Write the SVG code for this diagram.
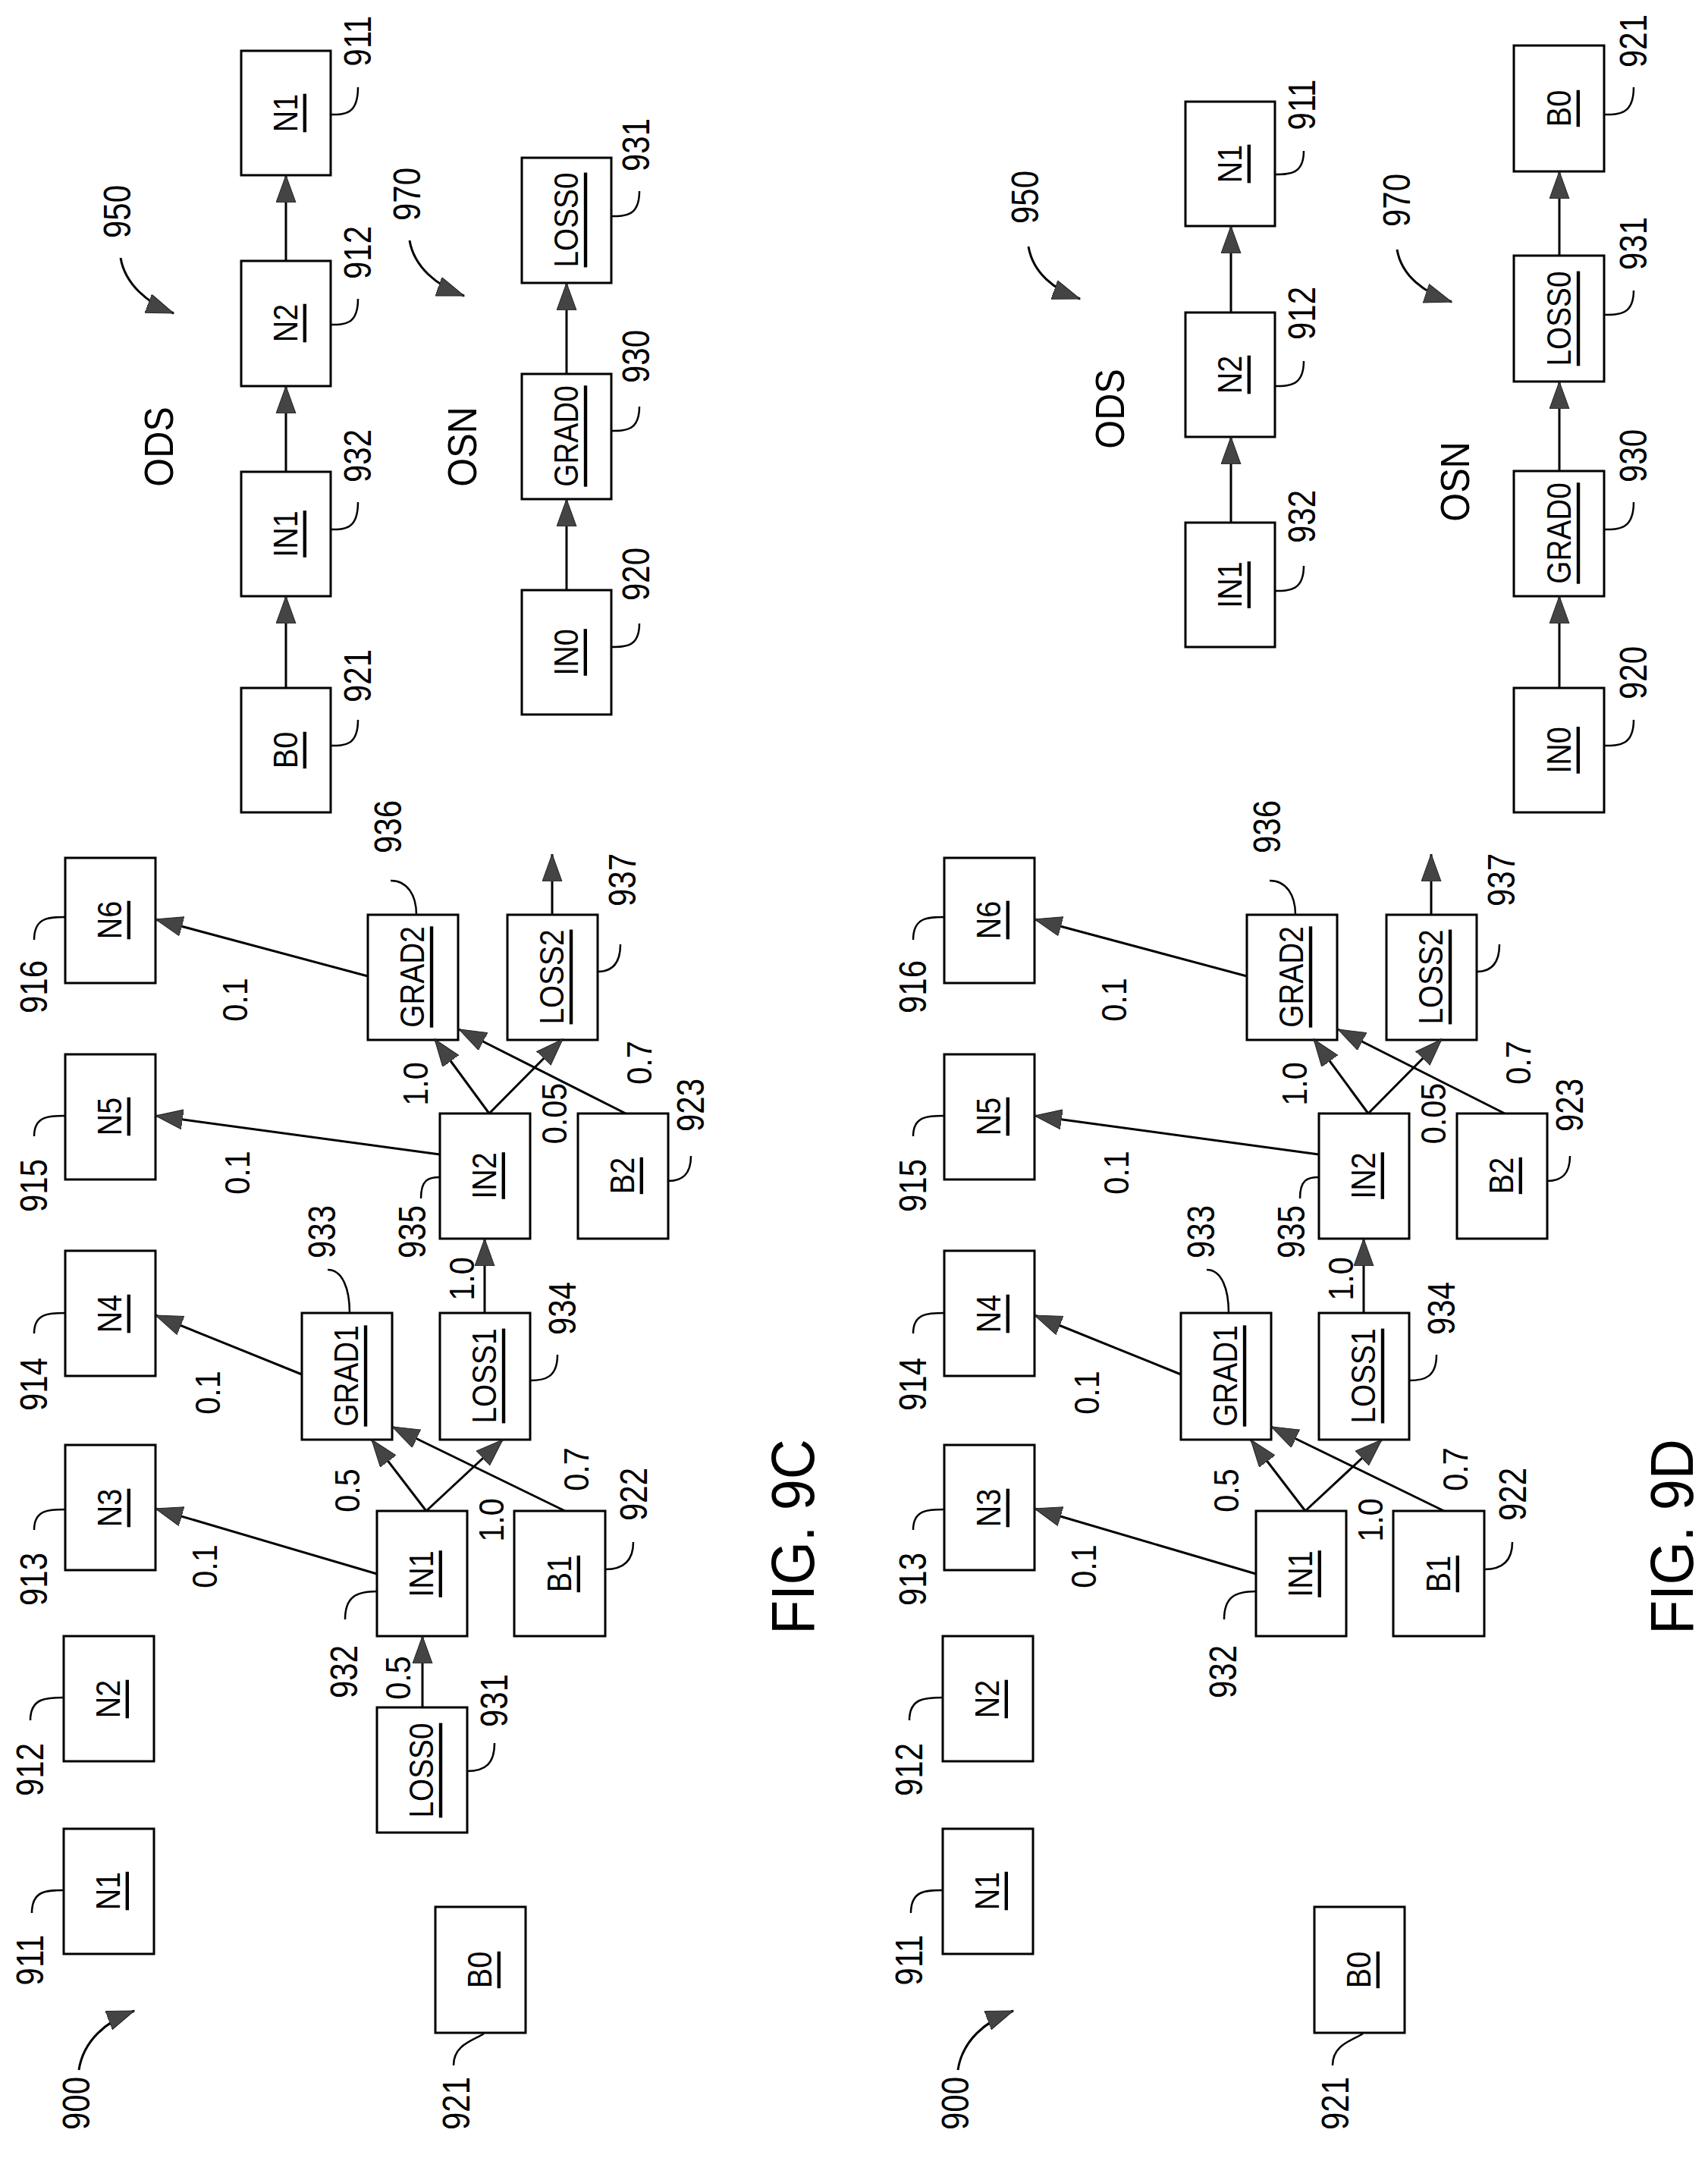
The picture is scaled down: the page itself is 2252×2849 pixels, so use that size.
<svg xmlns="http://www.w3.org/2000/svg" width="2252" height="2849" viewBox="0 0 2252 2849">
<style>
rect{fill:#fff;stroke:#000;stroke-width:3}
text{font-family:"Liberation Sans",Arial,sans-serif;text-anchor:middle;dominant-baseline:central;fill:#000}
.l{font-size:44px;text-decoration:underline}
.n{font-size:50px}
.w{font-size:46px}
.t{font-size:54px}
.f{font-size:80px}
.c line,.c path{stroke:#000;stroke-width:3;fill:none}
.c .a{marker-end:url(#ah)}
.ld path{stroke:#000;stroke-width:2.5;fill:none}
</style>
<defs>
<marker id="ah" markerUnits="userSpaceOnUse" markerWidth="40" markerHeight="28" refX="36" refY="13" orient="auto"><path d="M0,0 L36,13 L0,26 z" fill="#444" stroke="#222" stroke-width="1"/></marker>
<g id="fig">
<g id="N1"><rect x="84" y="2411" width="119" height="165"/><text class="l" transform="translate(143,2493) rotate(-90) scale(0.9,1)">N1</text></g>
<g id="N2"><rect x="84" y="2157" width="119" height="165"/><text class="l" transform="translate(143,2240) rotate(-90) scale(0.9,1)">N2</text></g>
<g id="N3"><rect x="86" y="1905" width="119" height="165"/><text class="l" transform="translate(145,1988) rotate(-90) scale(0.9,1)">N3</text></g>
<g id="N4"><rect x="86" y="1649" width="119" height="165"/><text class="l" transform="translate(145,1732) rotate(-90) scale(0.9,1)">N4</text></g>
<g id="N5"><rect x="86" y="1390" width="119" height="165"/><text class="l" transform="translate(145,1472) rotate(-90) scale(0.9,1)">N5</text></g>
<g id="N6"><rect x="86" y="1131" width="119" height="165"/><text class="l" transform="translate(145,1213) rotate(-90) scale(0.9,1)">N6</text></g>
<g id="GRAD2"><rect x="485" y="1206" width="119" height="165"/><text class="l" transform="translate(544,1288) rotate(-90) scale(0.88,1)">GRAD2</text></g>
<g id="LOSS2"><rect x="669" y="1206" width="119" height="165"/><text class="l" transform="translate(728,1288) rotate(-90) scale(0.88,1)">LOSS2</text></g>
<g id="IN2"><rect x="580" y="1468" width="119" height="165"/><text class="l" transform="translate(639,1550) rotate(-90) scale(0.9,1)">IN2</text></g>
<g id="B2"><rect x="762" y="1468" width="119" height="165"/><text class="l" transform="translate(821,1550) rotate(-90) scale(0.9,1)">B2</text></g>
<g id="GRAD1"><rect x="398" y="1731" width="119" height="167"/><text class="l" transform="translate(457,1814) rotate(-90) scale(0.88,1)">GRAD1</text></g>
<g id="LOSS1"><rect x="580" y="1731" width="119" height="167"/><text class="l" transform="translate(639,1814) rotate(-90) scale(0.88,1)">LOSS1</text></g>
<g id="IN1"><rect x="497" y="1992" width="119" height="165"/><text class="l" transform="translate(556,2075) rotate(-90) scale(0.9,1)">IN1</text></g>
<g id="B1"><rect x="678" y="1992" width="120" height="165"/><text class="l" transform="translate(738,2075) rotate(-90) scale(0.9,1)">B1</text></g>
<g id="B0"><rect x="574" y="2514" width="119" height="166"/><text class="l" transform="translate(633,2597) rotate(-90) scale(0.9,1)">B0</text></g>
<g class="c">
<line class="a" x1="497" y1="2075" x2="205" y2="1989"/>
<line class="a" x1="398" y1="1812" x2="205" y2="1734"/>
<line class="a" x1="580" y1="1522" x2="205" y2="1471"/>
<line class="a" x1="485" y1="1287" x2="205" y2="1212"/>
<line class="a" x1="562" y1="1992" x2="490" y2="1898"/>
<line class="a" x1="562" y1="1992" x2="663" y2="1898"/>
<line class="a" x1="745" y1="1992" x2="517" y2="1881"/>
<line class="a" x1="639" y1="1731" x2="639" y2="1633"/>
<line class="a" x1="645" y1="1468" x2="573" y2="1370"/>
<line class="a" x1="645" y1="1468" x2="742" y2="1370"/>
<line class="a" x1="825" y1="1468" x2="605" y2="1357"/>
<line class="a" x1="728" y1="1206" x2="728" y2="1126"/>
<path class="a" d="M104,2729 C110,2690 140,2665 177,2651"/>
</g>
<g class="ld">
<path d="M45,1239 C45,1209 65,1209 86,1209"/>
<path d="M45,1498 C45,1471 65,1471 86,1471"/>
<path d="M45,1758 C45,1731 65,1731 86,1731"/>
<path d="M45,2017 C45,1990 65,1990 86,1990"/>
<path d="M40,2268 C40,2238 62,2238 84,2238"/>
<path d="M42,2522 C42,2492 62,2492 84,2492"/>
<path d="M598,2723 C598,2695 625,2690 638,2681"/>
<path d="M515,1161 C537,1161 549,1180 549,1206"/>
<path d="M818,1245 C818,1272 805,1281 788,1281"/>
<path d="M432,1674 C452,1674 461,1700 461,1731"/>
<path d="M735,1786 C735,1815 720,1820 699,1820"/>
<path d="M555,1580 C555,1555 565,1552 580,1552"/>
<path d="M455,2135 C455,2105 470,2098 497,2098"/>
<path d="M835,2033 C835,2060 820,2069 798,2069"/>
<path d="M911,1524 C911,1550 898,1557 881,1557"/>
</g>
<text class="n" transform="translate(45,1301) rotate(-90) scale(0.84,1)">916</text>
<text class="n" transform="translate(45,1563) rotate(-90) scale(0.84,1)">915</text>
<text class="n" transform="translate(45,1825) rotate(-90) scale(0.84,1)">914</text>
<text class="n" transform="translate(45,2082) rotate(-90) scale(0.84,1)">913</text>
<text class="n" transform="translate(40,2333) rotate(-90) scale(0.84,1)">912</text>
<text class="n" transform="translate(40,2584) rotate(-90) scale(0.84,1)">911</text>
<text class="n" transform="translate(101,2773) rotate(-90) scale(0.84,1)">900</text>
<text class="n" transform="translate(602,2773) rotate(-90) scale(0.84,1)">921</text>
<text class="n" transform="translate(512,1090) rotate(-90) scale(0.84,1)">936</text>
<text class="n" transform="translate(821,1160) rotate(-90) scale(0.84,1)">937</text>
<text class="n" transform="translate(425,1624) rotate(-90) scale(0.84,1)">933</text>
<text class="n" transform="translate(742,1725) rotate(-90) scale(0.84,1)">934</text>
<text class="n" transform="translate(544,1624) rotate(-90) scale(0.84,1)">935</text>
<text class="n" transform="translate(454,2204) rotate(-90) scale(0.84,1)">932</text>
<text class="n" transform="translate(836,1970) rotate(-90) scale(0.84,1)">922</text>
<text class="n" transform="translate(911,1457) rotate(-90) scale(0.84,1)">923</text>
<text class="w" transform="translate(310,1318) rotate(-90) scale(0.9,1)">0.1</text>
<text class="w" transform="translate(313,1546) rotate(-90) scale(0.9,1)">0.1</text>
<text class="w" transform="translate(274,1836) rotate(-90) scale(0.9,1)">0.1</text>
<text class="w" transform="translate(270,2065) rotate(-90) scale(0.9,1)">0.1</text>
<text class="w" transform="translate(458,1965) rotate(-90) scale(0.9,1)">0.5</text>
<text class="w" transform="translate(648,2004) rotate(-90) scale(0.9,1)">1.0</text>
<text class="w" transform="translate(760,1937) rotate(-90) scale(0.9,1)">0.7</text>
<text class="w" transform="translate(609,1686) rotate(-90) scale(0.9,1)">1.0</text>
<text class="w" transform="translate(548,1429) rotate(-90) scale(0.9,1)">1.0</text>
<text class="w" transform="translate(731,1468) rotate(-90) scale(0.9,1)">0.05</text>
<text class="w" transform="translate(843,1401) rotate(-90) scale(0.9,1)">0.7</text>
</g>
</defs>

<g id="fig9C">
<use href="#fig"/>
<g id="LOSS0_c"><rect x="497" y="2251" width="119" height="165"/><text class="l" transform="translate(556,2334) rotate(-90) scale(0.88,1)">LOSS0</text></g>
<g class="c"><line class="a" x1="557" y1="2251" x2="557" y2="2157"/></g>
<g class="ld"><path d="M652,2298 C652,2325 640,2335 616,2335"/></g>
<text class="n" transform="translate(652,2242) rotate(-90) scale(0.84,1)">931</text>
<text class="w" transform="translate(525,2212) rotate(-90) scale(0.9,1)">0.5</text>
<text class="f" transform="translate(1045,2026) rotate(-90) scale(0.92,1)">FIG. 9C</text>

<g id="ODS_B0_c"><rect x="318" y="907" width="118" height="164"/><text class="l" transform="translate(377,989) rotate(-90) scale(0.9,1)">B0</text></g>
<g id="ODS_IN1_c"><rect x="318" y="622" width="118" height="164"/><text class="l" transform="translate(377,704) rotate(-90) scale(0.9,1)">IN1</text></g>
<g id="ODS_N2_c"><rect x="318" y="344" width="118" height="165"/><text class="l" transform="translate(377,426) rotate(-90) scale(0.9,1)">N2</text></g>
<g id="ODS_N1_c"><rect x="318" y="67" width="118" height="164"/><text class="l" transform="translate(377,149) rotate(-90) scale(0.9,1)">N1</text></g>
<g id="OSN_IN0_c"><rect x="688" y="778" width="118" height="164"/><text class="l" transform="translate(747,860) rotate(-90) scale(0.9,1)">IN0</text></g>
<g id="OSN_GRAD0_c"><rect x="688" y="493" width="118" height="165"/><text class="l" transform="translate(747,575) rotate(-90) scale(0.88,1)">GRAD0</text></g>
<g id="OSN_LOSS0_c"><rect x="688" y="208" width="118" height="165"/><text class="l" transform="translate(747,290) rotate(-90) scale(0.88,1)">LOSS0</text></g>
<g class="c">
<line class="a" x1="377" y1="907" x2="377" y2="786"/>
<line class="a" x1="377" y1="622" x2="377" y2="509"/>
<line class="a" x1="377" y1="344" x2="377" y2="231"/>
<line class="a" x1="747" y1="778" x2="747" y2="658"/>
<line class="a" x1="747" y1="493" x2="747" y2="373"/>
<path class="a" d="M159,340 C165,375 195,400 229,413"/>
<path class="a" d="M540,317 C546,352 576,377 612,390"/>
</g>
<g class="ld">
<path d="M472,115 C472,151 455,151 436,151"/>
<path d="M472,394 C472,428 455,428 436,428"/>
<path d="M472,662 C472,698 455,698 436,698"/>
<path d="M472,949 C472,983 455,983 436,983"/>
<path d="M843,252 C843,285 825,285 806,285"/>
<path d="M843,536 C843,568 825,568 806,568"/>
<path d="M843,822 C843,853 825,853 806,853"/>
</g>
<text class="t" transform="translate(209,589) rotate(-90) scale(0.9,1)">ODS</text>
<text class="t" transform="translate(609,589) rotate(-90) scale(0.9,1)">OSN</text>
<text class="n" transform="translate(155,279) rotate(-90) scale(0.84,1)">950</text>
<text class="n" transform="translate(537,256) rotate(-90) scale(0.84,1)">970</text>
<text class="n" transform="translate(472,54) rotate(-90) scale(0.84,1)">911</text>
<text class="n" transform="translate(472,333) rotate(-90) scale(0.84,1)">912</text>
<text class="n" transform="translate(472,601) rotate(-90) scale(0.84,1)">932</text>
<text class="n" transform="translate(472,891) rotate(-90) scale(0.84,1)">921</text>
<text class="n" transform="translate(839,191) rotate(-90) scale(0.84,1)">931</text>
<text class="n" transform="translate(839,470) rotate(-90) scale(0.84,1)">930</text>
<text class="n" transform="translate(839,757) rotate(-90) scale(0.84,1)">920</text>
</g>

<g id="fig9D">
<use href="#fig" transform="translate(1159,0)"/>
<text class="f" transform="translate(2204,2026) rotate(-90) scale(0.92,1)">FIG. 9D</text>
<g id="ODS_IN1_d"><rect x="1563" y="689" width="118" height="164"/><text class="l" transform="translate(1622,771) rotate(-90) scale(0.9,1)">IN1</text></g>
<g id="ODS_N2_d"><rect x="1563" y="412" width="118" height="164"/><text class="l" transform="translate(1622,494) rotate(-90) scale(0.9,1)">N2</text></g>
<g id="ODS_N1_d"><rect x="1563" y="134" width="118" height="164"/><text class="l" transform="translate(1622,216) rotate(-90) scale(0.9,1)">N1</text></g>
<g id="OSN_IN0_d"><rect x="1996" y="907" width="119" height="164"/><text class="l" transform="translate(2056,989) rotate(-90) scale(0.9,1)">IN0</text></g>
<g id="OSN_GRAD0_d"><rect x="1996" y="621" width="119" height="165"/><text class="l" transform="translate(2056,703) rotate(-90) scale(0.88,1)">GRAD0</text></g>
<g id="OSN_LOSS0_d"><rect x="1996" y="337" width="119" height="166"/><text class="l" transform="translate(2056,420) rotate(-90) scale(0.88,1)">LOSS0</text></g>
<g id="OSN_B0_d"><rect x="1996" y="60" width="119" height="166"/><text class="l" transform="translate(2056,143) rotate(-90) scale(0.9,1)">B0</text></g>
<g class="c">
<line class="a" x1="1623" y1="689" x2="1623" y2="576"/>
<line class="a" x1="1623" y1="412" x2="1623" y2="298"/>
<line class="a" x1="2056" y1="907" x2="2056" y2="786"/>
<line class="a" x1="2056" y1="621" x2="2056" y2="503"/>
<line class="a" x1="2056" y1="337" x2="2056" y2="226"/>
<path class="a" d="M1356,325 C1362,360 1390,382 1424,394"/>
<path class="a" d="M1842,329 C1848,364 1878,386 1914,398"/>
</g>
<g class="ld">
<path d="M1719,199 C1719,230 1700,230 1681,230"/>
<path d="M1719,476 C1719,509 1700,509 1681,509"/>
<path d="M1719,746 C1719,779 1700,779 1681,779"/>
<path d="M2154,115 C2154,151 2135,151 2115,151"/>
<path d="M2154,383 C2154,415 2135,415 2115,415"/>
<path d="M2154,662 C2154,698 2135,698 2115,698"/>
<path d="M2154,949 C2154,983 2135,983 2115,983"/>
</g>
<text class="t" transform="translate(1463,539) rotate(-90) scale(0.9,1)">ODS</text>
<text class="t" transform="translate(1918,635) rotate(-90) scale(0.9,1)">OSN</text>
<text class="n" transform="translate(1352,260) rotate(-90) scale(0.84,1)">950</text>
<text class="n" transform="translate(1842,264) rotate(-90) scale(0.84,1)">970</text>
<text class="n" transform="translate(1717,138) rotate(-90) scale(0.84,1)">911</text>
<text class="n" transform="translate(1717,413) rotate(-90) scale(0.84,1)">912</text>
<text class="n" transform="translate(1717,681) rotate(-90) scale(0.84,1)">932</text>
<text class="n" transform="translate(2154,54) rotate(-90) scale(0.84,1)">921</text>
<text class="n" transform="translate(2154,321) rotate(-90) scale(0.84,1)">931</text>
<text class="n" transform="translate(2154,601) rotate(-90) scale(0.84,1)">930</text>
<text class="n" transform="translate(2154,887) rotate(-90) scale(0.84,1)">920</text>
</g>
</svg>
